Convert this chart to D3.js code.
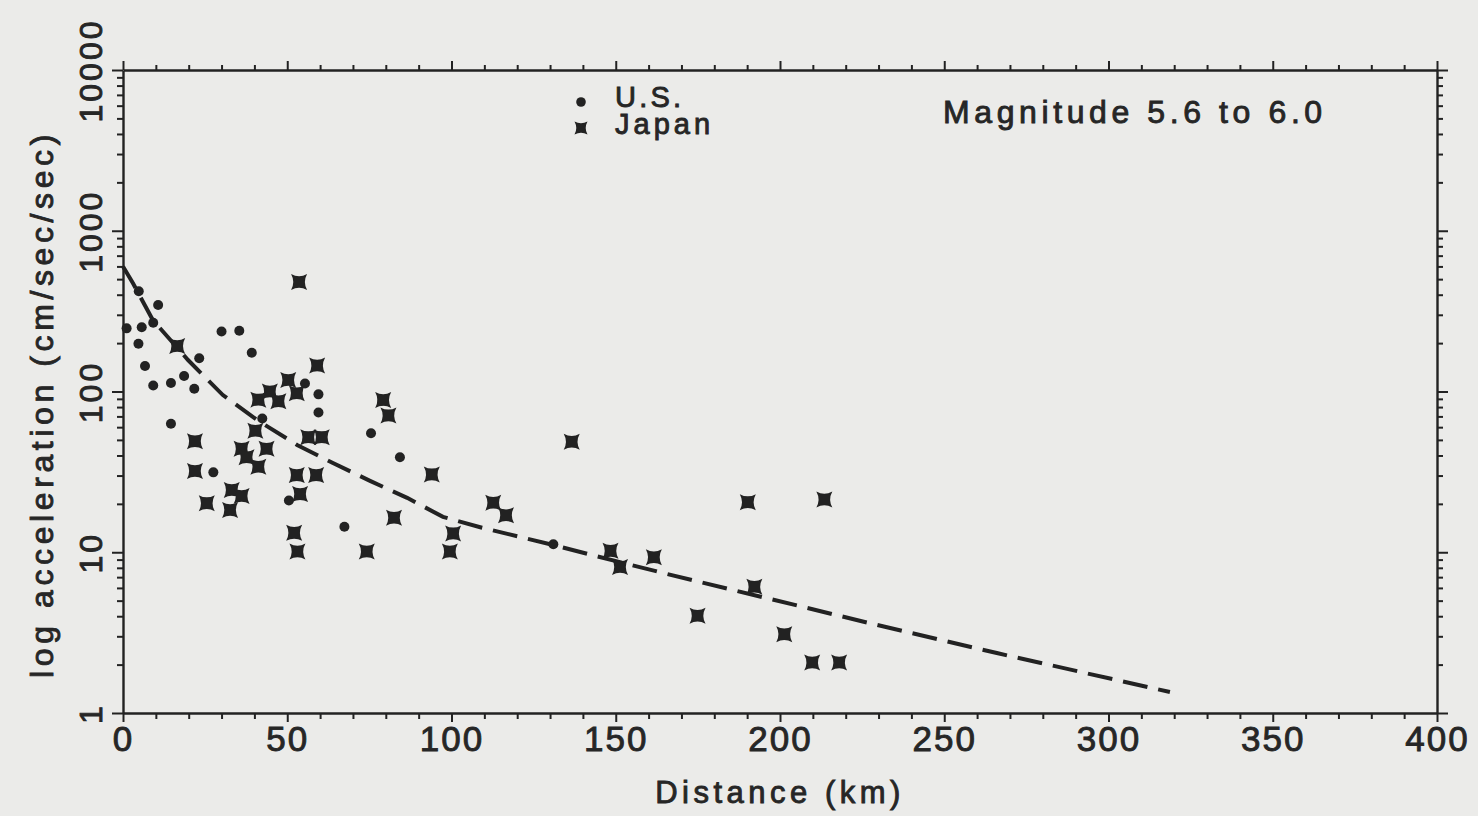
<!DOCTYPE html>
<html>
<head>
<meta charset="utf-8">
<script src="https://cdn.jsdelivr.net/npm/d3@7"></script>
<style>
  html, body { margin: 0; padding: 0; background: #ebebe9; }
  svg { display: block; }
  .lbl { font-family: "Liberation Sans", Arial, sans-serif; fill: #262626; stroke: #262626; stroke-width: 0.9px; }
</style>
</head>
<body>
<div id="chart"></div>
<script>
// U.S. records (distance km, acceleration cm/sec/sec)
var usDistance = [1.1, 4.8, 4.7, 5.7, 6.7, 9.2, 9.2, 10.7, 14.6, 18.6, 21.7, 23.2, 14.6, 27.5, 30.0, 35.4, 39.2, 42.4, 50.5, 55.4, 59.5, 59.5, 67.4, 75.5, 79.0, 84.3, 131.0];
var usAccel    = [247, 420, 198, 251, 144, 109, 268, 345, 113, 125, 104, 161, 63, 31.4, 236, 239, 174, 68, 21, 112, 96, 74, 14.4, 55, 88, 39, 11.2];

// Japan records
var japanDistance = [53.6, 16.5, 59.1, 50.3, 52.9, 44.7, 41.2, 47.3, 79.2, 80.8, 40.3, 36.1, 37.6, 43.7, 41.2, 21.9, 21.9, 25.5, 32.6, 33.1, 36.1, 56.4, 60.5, 52.9, 58.8, 53.9, 52.1, 53.1, 74.2, 82.5, 94.0, 100.5, 99.5, 112.7, 116.6, 136.6, 148.4, 151.3, 161.6, 190.2, 213.5, 192.2, 174.9, 201.3, 209.8, 218.0];
var japanAccel    = [480, 192, 145, 118, 97.5, 100, 89, 87, 88.5, 71, 57, 44, 39, 44, 34, 49, 32, 20.2, 18.3, 24.4, 22.4, 52, 52, 30.2, 30.2, 23, 13.2, 10.1, 10.1, 16.4, 30.5, 13.1, 10.1, 20.3, 17, 48.7, 10.2, 8.1, 9.3, 20.5, 21.3, 6.1, 4.03, 3.09, 2.06, 2.06];

// fitted attenuation curve (dashed)
var fitDistance = [0, 3, 9.1, 19.8, 30.4, 40.8, 53, 63.9, 75.2, 86.5, 97.4, 109.3, 130.9, 142.8, 164.4, 185.7, 207, 229.5, 266, 318.7];
var fitAccel    = [600, 473, 278, 157, 95, 66.5, 46.5, 35.9, 27.8, 21.8, 16.6, 14.2, 11.1, 9.6, 7.43, 5.82, 4.57, 3.53, 2.36, 1.35];

var xMajorTicks = [0, 50, 100, 150, 200, 250, 300, 350, 400];
var yMajorTicks = [1, 10, 100, 1000, 10000];

var width = 1478, height = 816;
var plotLeft = 123, plotRight = 1437, plotTop = 70, plotBottom = 713;
var ink = "#222";

var svg = d3.select("#chart").append("svg")
    .attr("width", width)
    .attr("height", height);

svg.append("rect").attr("width", width).attr("height", height).attr("fill", "#ebebe9");

var x = d3.scaleLinear().domain([0, 400]).range([plotLeft, plotRight]);
var y = d3.scaleLog().domain([1, 10000]).range([plotBottom, plotTop]);

var xMinor = x.ticks(40);
var yAll = y.ticks();

function isMajorX(d) { return xMajorTicks.indexOf(d) >= 0; }
function isMajorY(d) { return yMajorTicks.indexOf(d) >= 0; }

// bottom axis
var gx = svg.append("g")
    .attr("transform", "translate(0," + plotBottom + ")")
    .call(d3.axisBottom(x).tickValues(xMinor).tickSizeOuter(0)
        .tickFormat(function (d) { return isMajorX(d) ? d : ""; }));
gx.selectAll(".tick line").attr("y2", function (d) { return isMajorX(d) ? 9 : 6; });

// top axis
var gxt = svg.append("g")
    .attr("transform", "translate(0," + plotTop + ")")
    .call(d3.axisTop(x).tickValues(xMinor).tickSizeOuter(0).tickFormat(""));
gxt.selectAll(".tick line").attr("y2", function (d) { return isMajorX(d) ? -9 : -5; });

// left axis
var gy = svg.append("g")
    .attr("transform", "translate(" + plotLeft + ",0)")
    .call(d3.axisLeft(y).tickValues(yAll).tickSizeOuter(0)
        .tickFormat(function (d) { return isMajorY(d) ? d : ""; }));
gy.selectAll(".tick line").attr("x2", function (d) { return isMajorY(d) ? -11 : -6; });

// right axis
var gyr = svg.append("g")
    .attr("transform", "translate(" + plotRight + ",0)")
    .call(d3.axisRight(y).tickValues(yAll).tickSizeOuter(0).tickFormat(""));
gyr.selectAll(".tick line").attr("x2", function (d) { return isMajorY(d) ? 11 : 6; });

svg.selectAll(".domain").attr("stroke", ink).attr("stroke-width", 2.4);
svg.selectAll(".tick line").attr("stroke", ink).attr("stroke-width", 2);

gx.selectAll(".tick text")
    .attr("class", "lbl")
    .attr("y", 38)
    .attr("dy", 0)
    .style("font-size", "35px")
    .style("letter-spacing", "2px");

gy.selectAll(".tick text")
    .attr("class", "lbl")
    .attr("x", 0)
    .attr("dy", 0)
    .attr("text-anchor", "middle")
    .attr("transform", "translate(-21,0) rotate(-90)")
    .style("font-size", "32px")
    .style("letter-spacing", "3px");

svg.selectAll(".tick text").attr("fill", null);
gx.attr("font-family", null).attr("font-size", null);
gy.attr("font-family", null).attr("font-size", null);

// fitted curve
var line = d3.line()
    .x(function (d, i) { return x(fitDistance[i]); })
    .y(function (d, i) { return y(fitAccel[i]); });

svg.append("path")
    .datum(fitDistance)
    .attr("d", line)
    .attr("fill", "none")
    .attr("stroke", ink)
    .attr("stroke-width", 4)
    .attr("stroke-dasharray", "25,11");

// Japan marker: square with concave sides
function starPath(s) {
    var k = s * 0.45;
    return "M" + (-s) + "," + (-s) +
        " Q0," + (-k) + " " + s + "," + (-s) +
        " Q" + k + ",0 " + s + "," + s +
        " Q0," + k + " " + (-s) + "," + s +
        " Q" + (-k) + ",0 " + (-s) + "," + (-s) + "Z";
}

svg.append("g").selectAll("circle")
    .data(usDistance)
    .enter()
    .append("circle")
    .attr("cx", function (d) { return x(d); })
    .attr("cy", function (d, i) { return y(usAccel[i]); })
    .attr("r", 5)
    .attr("fill", ink);

svg.append("g").selectAll("path")
    .data(japanDistance)
    .enter()
    .append("path")
    .attr("d", starPath(8))
    .attr("transform", function (d, i) { return "translate(" + x(d) + "," + y(japanAccel[i]) + ")"; })
    .attr("fill", ink);

// legend
svg.append("circle").attr("cx", 581).attr("cy", 102).attr("r", 4.8).attr("fill", ink);
svg.append("path").attr("d", starPath(6.5)).attr("transform", "translate(581,128)").attr("fill", ink);
svg.append("text").attr("class", "lbl").attr("x", 615).attr("y", 107)
    .style("font-size", "29px").style("letter-spacing", "3.2px").text("U.S.");
svg.append("text").attr("class", "lbl").attr("x", 615).attr("y", 134)
    .style("font-size", "29px").style("letter-spacing", "4px").text("Japan");

svg.append("text").attr("class", "lbl").attr("x", 943).attr("y", 123)
    .style("font-size", "32px").style("letter-spacing", "4.6px").text("Magnitude 5.6 to 6.0");

// axis titles
svg.append("text").attr("class", "lbl")
    .attr("text-anchor", "middle")
    .attr("transform", "translate(780,803)")
    .style("font-size", "31px").style("letter-spacing", "4.5px")
    .text("Distance (km)");

svg.append("text").attr("class", "lbl")
    .attr("text-anchor", "middle")
    .attr("transform", "translate(53,404) rotate(-90)")
    .style("font-size", "32px").style("letter-spacing", "4.6px")
    .text("log acceleration (cm/sec/sec)");
</script>
</body>
</html>
